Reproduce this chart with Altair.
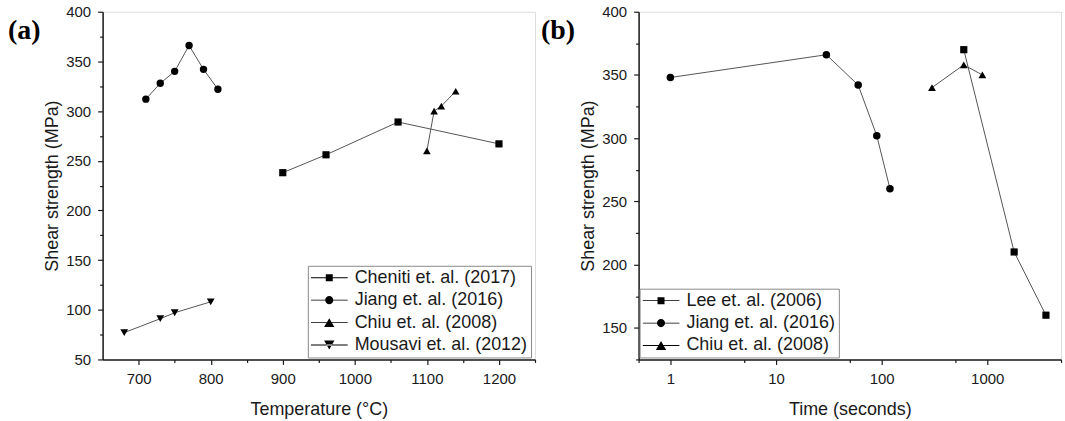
import altair as alt
import pandas as pd

# ---- Panel (a): shear strength vs. bonding temperature ----
temp_series = ["Cheniti et. al. (2017)", "Jiang et. al. (2016)",
               "Chiu et. al. (2008)", "Mousavi et. al. (2012)"]
cheniti_temp = [900, 960, 1060, 1200]
cheniti_strength = [238, 256, 289, 267]
jiang_temp = [710, 730, 750, 770, 790, 810]
jiang_temp_strength = [312, 328, 340, 366, 342, 322]
chiu_temp = [1100, 1110, 1120, 1140]
chiu_temp_strength = [260, 300, 305, 320]
mousavi_temp = [680, 730, 750, 800]
mousavi_strength = [77, 91, 97, 108]

# ---- Panel (b): shear strength vs. bonding time ----
time_series = ["Lee et. al. (2006)", "Jiang et. al. (2016)", "Chiu et. al. (2008)"]
lee_time = [600, 1800, 3600]
lee_strength = [370, 210, 160]
jiang_time = [1, 30, 60, 90, 120]
jiang_time_strength = [348, 366, 342, 302, 260]
chiu_time = [300, 600, 900]
chiu_time_strength = [340, 358, 350]

# tick positions (major + minor)
temp_ticks = list(range(700, 1251, 50))
temp_strength_ticks = list(range(50, 401, 25))
time_ticks = [0.5, 1, 5, 10, 50, 100, 500, 1000, 5000]
time_strength_ticks = list(range(125, 401, 25))


def table(groups):
    rows = []
    for name, xs, ys in groups:
        for i, (xv, yv) in enumerate(zip(xs, ys)):
            rows.append({"series": name, "x": xv, "y": yv, "order": i})
    return pd.DataFrame(rows)


df_a = table([
    (temp_series[0], cheniti_temp, cheniti_strength),
    (temp_series[1], jiang_temp, jiang_temp_strength),
    (temp_series[2], chiu_temp, chiu_temp_strength),
    (temp_series[3], mousavi_temp, mousavi_strength),
])
df_b = table([
    (time_series[0], lee_time, lee_strength),
    (time_series[1], jiang_time, jiang_time_strength),
    (time_series[2], chiu_time, chiu_time_strength),
])

FONT = "Liberation Sans"
INK = "#1a1a1a"
LINE = "#555555"

# legend keys: a thin line with the marker in its middle (unit = half the key width)
KEY_SIZE = 1369  # key is sqrt(1369) = 37 px wide
KEY_LINE = "M-1,-0.022H1V0.022H-1Z"
KEY_SQUARE = KEY_LINE + "M-0.19,-0.19H0.19V0.19H-0.19Z"
KEY_CIRCLE = KEY_LINE + "M-0.22,0A0.22,0.22 0 1,1 0.22,0A0.22,0.22 0 1,1 -0.22,0Z"
KEY_TRI_UP = KEY_LINE + "M0,-0.24L0.28,0.24L-0.28,0.24Z"
KEY_TRI_DOWN = KEY_LINE + "M0,0.24L0.28,-0.24L-0.28,-0.24Z"


def axis(title, values, major, fmt="d", **extra):
    kw = dict(
        title=title, values=values, grid=False, format=fmt,
        labelExpr=f"({major}) ? datum.label : ''",
        tickSize={"condition": {"test": major, "value": 5}, "value": 3},
        labelFontSize=15, titleFontSize=18, titleFontWeight="normal",
        labelColor=INK, titleColor=INK, labelFont=FONT, titleFont=FONT,
        domainColor=INK, domainWidth=1.5, tickColor=INK, tickWidth=1.2,
        labelPadding=7,
    )
    kw.update(extra)
    return alt.Axis(**kw)


def panel(df, series, shapes, sizes, keys, xscale, xaxis, yscale, yaxis,
          lx, ly, tag, tag_x, w, h):
    base = alt.Chart(df)
    x = alt.X("x:Q", scale=xscale, axis=xaxis)
    y = alt.Y("y:Q", scale=yscale, axis=yaxis)
    lines = base.mark_line(color=LINE, strokeWidth=1).encode(
        x=x, y=y, detail="series:N", order="order:Q")
    pts = base.mark_point(filled=True, color="black", opacity=1).encode(
        x=x, y=y,
        shape=alt.Shape("series:N", scale=alt.Scale(domain=series, range=shapes), legend=None),
        size=alt.Size("series:N", scale=alt.Scale(domain=series, range=sizes), legend=None),
    )
    key = base.mark_point(filled=True, color="black", size=KEY_SIZE, opacity=0).encode(
        x=x, y=y,
        shape=alt.Shape(
            "series:N",
            scale=alt.Scale(domain=series, range=keys),
            legend=alt.Legend(
                title=None, orient="none", legendX=lx, legendY=ly,
                labelFont=FONT, labelFontSize=18, labelColor=INK, labelOffset=7,
                labelLimit=400, symbolSize=KEY_SIZE, symbolStrokeWidth=0,
                symbolFillColor="black", symbolOpacity=1, clipHeight=18,
                rowPadding=4.5, padding=3, strokeColor="#8a8a8a", fillColor="white",
                cornerRadius=0,
            ),
        ),
    )
    label = alt.Chart(pd.DataFrame({"tag": [tag]})).mark_text(
        font="Liberation Serif", fontWeight="bold", fontSize=28, color="black",
        align="left", baseline="middle",
    ).encode(text="tag:N", x=alt.value(tag_x), y=alt.value(19))
    return alt.layer(lines, pts, key, label).resolve_scale(
        shape="independent", size="independent").properties(width=w, height=h)


chart_a = panel(
    df_a, temp_series,
    ["square", "circle", "triangle-up", "triangle-down"], [52, 62, 130, 130],
    [KEY_SQUARE, KEY_CIRCLE, KEY_TRI_UP, KEY_TRI_DOWN],
    alt.Scale(domain=[650, 1250], nice=False, zero=False),
    axis("Temperature (°C)", temp_ticks, "datum.value % 100 === 0", titlePadding=14),
    alt.Scale(domain=[50, 400], nice=False, zero=False),
    axis("Shear strength (MPa)", temp_strength_ticks, "datum.value % 50 === 0"),
    206, 255, "(a)", -95, 434, 349,
)

chart_b = panel(
    df_b, time_series,
    ["square", "circle", "triangle-up"], [52, 62, 130],
    [KEY_SQUARE, KEY_CIRCLE, KEY_TRI_UP],
    alt.Scale(type="log", domain=[0.5, 5000], nice=False),
    axis("Time (seconds)", time_ticks,
         "indexof([1, 10, 100, 1000], datum.value) >= 0", titlePadding=14),
    alt.Scale(domain=[125, 400], nice=False, zero=False),
    axis("Shear strength (MPa)", time_strength_ticks, "datum.value % 50 === 0"),
    1, 278, "(b)", -98, 424, 349,
)

chart = alt.hconcat(chart_a, chart_b, spacing=104, bounds="flush").properties(
    padding={"left": 7, "top": 3, "right": 0, "bottom": 0}
).configure_view(stroke="#333333", strokeWidth=1.4).configure(font=FONT)

chart.save("out.html", embed_options={"renderer": "svg", "actions": False})
